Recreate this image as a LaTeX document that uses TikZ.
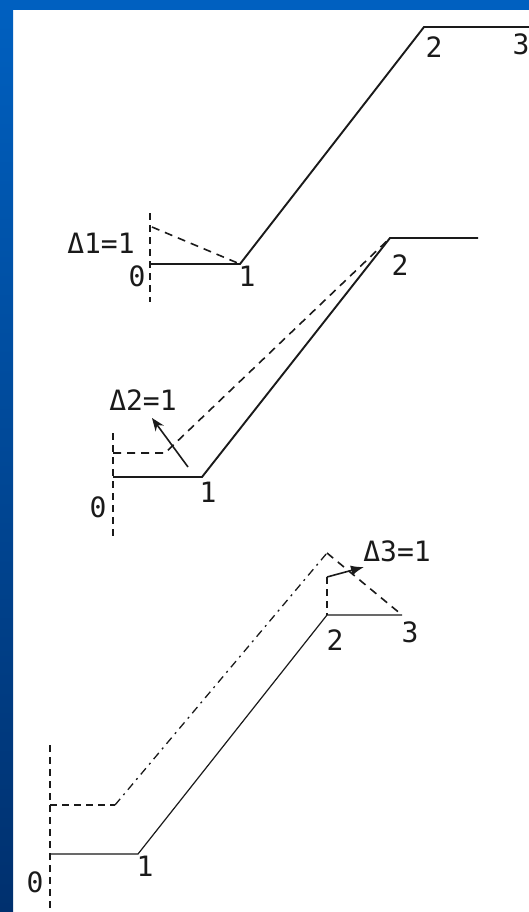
\documentclass[tikz,border=0pt]{standalone}
\usepackage{fontspec}
\newfontfamily\labelfont{DejaVu Sans Mono}
\usetikzlibrary{arrows.meta, positioning}
\definecolor{frameblue}{HTML}{0060C0}
\definecolor{framenavy}{HTML}{00306E}
\definecolor{ink}{HTML}{1A1A1A}
\tikzstyle{bar}     = [line width=1.9pt, color=ink]
\tikzstyle{thinbar} = [line width=1.2pt, color=ink]
\tikzstyle{axis}    = [dash pattern=on 7pt off 5pt, line width=1.3pt, color=ink]
\tikzstyle{shifted} = [dash pattern=on 8pt off 6pt, line width=1.6pt, color=ink]
\tikzstyle{chain}   = [dash pattern=on 8pt off 5pt on 2pt off 5pt, line width=1.3pt, color=ink]
\tikzstyle{lbl}     = [font=\labelfont\fontsize{28}{30}\selectfont, inner sep=0pt, text=ink]
\tikzstyle{arrow}   = [-{Stealth[length=13pt,width=10pt]}, line width=1.6pt, color=ink]

\begin{document}
\begin{tikzpicture}[x=1pt, y=-1pt]

  %% frame
  \useasboundingbox (0,0) rectangle (529,912);
  \fill[white] (0,0) rectangle (529,912);
  \shade[top color=frameblue, bottom color=framenavy] (0,0) rectangle (13,912);
  \fill[frameblue] (0,0) rectangle (529,10);

  %% Case 1: unit rotation at joint 1
  \coordinate (ax1t) at (150,213);
  \coordinate (ax1b) at (150,302);
  \coordinate (j0a) at (150,264);
  \coordinate (j1a) at (240,264);
  \coordinate (j2a) at (424,27);
  \coordinate (j3a) at (529,27);
  \coordinate (d1a) at (152,227);
  \node[lbl] (n0a) at (137,276) {0};
  \node[lbl] (n1a) at (247,276) {1};
  \node[lbl] (n2a) at (434,47) {2};
  \node[lbl] (n3a) at (521,44) {3};
  \node[lbl] (delta1) at (101,243) {Δ1=1};

  \draw[axis] (ax1t) -- (ax1b);
  \draw[bar] (j0a) -- (j1a) -- (j2a) -- (j3a);
  \draw[shifted] (d1a) -- (j1a);

  %% Case 2: unit rotation at joint 2
  \coordinate (ax2t) at (113,433);
  \coordinate (ax2b) at (113,540);
  \coordinate (j0b) at (113,477);
  \coordinate (j1b) at (202,477);
  \coordinate (j2b) at (390,238);
  \coordinate (j3b) at (478,238);
  \coordinate (d0b) at (113,453);
  \coordinate (d1b) at (165,453);
  \coordinate (r2s) at (188,467);
  \coordinate (r2e) at (152,418);
  \node[lbl] (n0b) at (98,507) {0};
  \node[lbl] (n1b) at (208,492) {1};
  \node[lbl] (n2b) at (400,265) {2};
  \node[lbl] (delta2) at (143,400) {Δ2=1};

  \draw[axis] (ax2t) -- (ax2b);
  \draw[bar] (j0b) -- (j1b) -- (j2b) -- (j3b);
  \draw[shifted] (d0b) -- (d1b) -- (j2b);
  \draw[arrow] (r2s) -- (r2e);

  %% Case 3: unit rotation at joint 3
  \coordinate (ax3t) at (50,745);
  \coordinate (ax3b) at (50,912);
  \coordinate (j0c) at (50,854);
  \coordinate (j1c) at (138,854);
  \coordinate (j2c) at (327,615);
  \coordinate (j3c) at (402,615);
  \coordinate (d0c) at (50,805);
  \coordinate (d1c) at (115,805);
  \coordinate (d2c) at (327,553);
  \coordinate (v2c) at (327,577);
  \coordinate (r3e) at (364,567);
  \node[lbl] (n0c) at (35,882) {0};
  \node[lbl] (n1c) at (145,866) {1};
  \node[lbl] (n2c) at (335,640) {2};
  \node[lbl] (n3c) at (410,632) {3};
  \node[lbl] (delta3) at (397,551) {Δ3=1};

  \draw[axis] (ax3t) -- (ax3b);
  \draw[thinbar] (j0c) -- (j1c) -- (j2c) -- (j3c);
  \draw[axis] (d0c) -- (d1c);
  \draw[chain] (d1c) -- (d2c);
  \draw[shifted] (d2c) -- (j3c);
  \draw[axis] (v2c) -- (j2c);
  \draw[arrow, -{Latex[length=13pt,width=10pt]}] (v2c) -- (r3e);

\end{tikzpicture}
\end{document}
